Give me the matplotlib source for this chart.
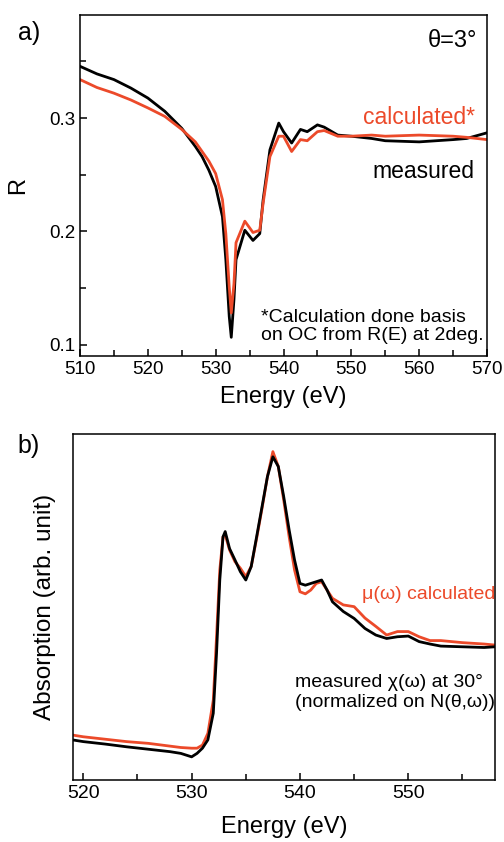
import matplotlib
matplotlib.use("Agg")
import matplotlib.pyplot as plt
from matplotlib.ticker import MultipleLocator

plt.rcParams['font.family'] = ['Liberation Sans', 'DejaVu Sans']

RED = "#ec4a2a"

# panel a: reflectivity at theta = 3 deg
e_a = [510, 512.5, 515, 517.5, 520, 522.5, 525, 527, 528, 529, 530, 531, 531.5,
       532, 532.3, 532.7, 533, 534.3, 535.5, 536.5, 537, 538, 539.3, 540, 541.2,
       542.5, 543.5, 545, 546, 548, 550, 553, 555, 560, 565, 567, 570]
r_meas = [0.3457, 0.339, 0.334, 0.3265, 0.3177, 0.306, 0.291, 0.275, 0.266, 0.254,
          0.2396, 0.213, 0.175, 0.125, 0.1065, 0.14, 0.175, 0.201, 0.192, 0.198,
          0.228, 0.272, 0.2956, 0.288, 0.278, 0.29, 0.288, 0.294, 0.292, 0.285,
          0.284, 0.282, 0.280, 0.279, 0.281, 0.282, 0.287]
r_calc = [0.334, 0.327, 0.322, 0.316, 0.309, 0.3015, 0.290, 0.279, 0.2705, 0.262,
          0.251, 0.228, 0.198, 0.151, 0.128, 0.154, 0.19, 0.209, 0.199, 0.201,
          0.225, 0.266, 0.284, 0.284, 0.2705, 0.281, 0.280, 0.288, 0.289, 0.284,
          0.284, 0.285, 0.284, 0.285, 0.284, 0.283, 0.281]

# panel b: absorption
e_b = [519, 520, 522, 524, 526, 528, 529, 530, 530.5, 531, 531.5, 532, 532.3,
       532.6, 532.9, 533.1, 533.5, 534, 534.5, 535, 535.5, 536, 536.5, 537,
       537.5, 538, 538.5, 539, 539.5, 540, 540.5, 541, 541.5, 542, 542.5, 543,
       544, 545, 546, 547, 548, 549, 550, 551, 552, 553, 555, 557, 558]
abs_meas = [0.116, 0.111, 0.104, 0.096, 0.089, 0.082, 0.077, 0.067, 0.077, 0.092,
            0.116, 0.193, 0.366, 0.578, 0.703, 0.718, 0.669, 0.636, 0.602, 0.578,
            0.617, 0.703, 0.790, 0.877, 0.934, 0.906, 0.819, 0.723, 0.636, 0.568,
            0.563, 0.568, 0.573, 0.578, 0.549, 0.515, 0.487, 0.467, 0.438, 0.419,
            0.409, 0.414, 0.416, 0.400, 0.393, 0.387, 0.385, 0.383, 0.385]
abs_calc = [0.130, 0.125, 0.118, 0.111, 0.106, 0.098, 0.094, 0.092, 0.092, 0.101,
            0.135, 0.231, 0.414, 0.607, 0.703, 0.708, 0.665, 0.631, 0.612, 0.588,
            0.617, 0.698, 0.785, 0.877, 0.949, 0.906, 0.809, 0.703, 0.607, 0.544,
            0.538, 0.549, 0.568, 0.573, 0.549, 0.525, 0.506, 0.501, 0.468, 0.444,
            0.419, 0.429, 0.429, 0.414, 0.403, 0.403, 0.397, 0.393, 0.390]

fig = plt.figure(figsize=(5.04, 8.42), dpi=100)

# ---- a)
ax1 = fig.add_axes([0.1587, 0.5772, 0.8076, 0.405])
ax1.plot(e_a, r_meas, color="black", lw=2)
ax1.plot(e_a, r_calc, color=RED, lw=2)
ax1.set_xlim(510, 570)
ax1.set_ylim(0.09, 0.391)
ax1.xaxis.set_major_locator(MultipleLocator(10))
ax1.xaxis.set_minor_locator(MultipleLocator(5))
ax1.yaxis.set_major_locator(MultipleLocator(0.1))
ax1.yaxis.set_minor_locator(MultipleLocator(0.05))
ax1.tick_params(which="both", direction="in", labelsize=13.5)
ax1.tick_params(which="major", length=5, width=1.1)
ax1.tick_params(which="minor", length=4, width=1.1)
ax1.set_xlabel("Energy (eV)", fontsize=17, labelpad=6)
ax1.set_ylabel("R", fontsize=17, labelpad=14)
ax1.text(0.975, 0.955, "θ=3°", transform=ax1.transAxes, ha="right", va="top", fontsize=17)
ax1.text(0.97, 0.70, "calculated*", transform=ax1.transAxes, ha="right", va="center",
         fontsize=16.5, color=RED)
ax1.text(0.97, 0.54, "measured", transform=ax1.transAxes, ha="right", va="center",
         fontsize=16.5)
ax1.text(0.445, 0.035, "*Calculation done basis\non OC from R(E) at 2deg.",
         transform=ax1.transAxes, ha="left", va="bottom", fontsize=14, linespacing=1.1)
fig.text(0.035, 0.952, "a)", fontsize=18)

# ---- b)
ax2 = fig.add_axes([0.1448, 0.0736, 0.8373, 0.411])
ax2.plot(e_b, abs_calc, color=RED, lw=2)
ax2.plot(e_b, abs_meas, color="black", lw=2)
ax2.set_xlim(519.05, 558)
ax2.set_ylim(0, 1)
ax2.xaxis.set_major_locator(MultipleLocator(10))
ax2.xaxis.set_minor_locator(MultipleLocator(5))
ax2.set_yticks([])
ax2.tick_params(which="both", direction="in", labelsize=14)
ax2.tick_params(which="major", length=5, width=1.1)
ax2.tick_params(which="minor", length=4, width=1.1)
ax2.set_xlabel("Energy (eV)", fontsize=17, labelpad=10)
ax2.set_ylabel("Absorption (arb. unit)", fontsize=17.5, labelpad=12)
ax2.text(1.0, 0.535, "μ(ω) calculated", transform=ax2.transAxes, ha="right",
         va="center", fontsize=14, color=RED)
ax2.text(0.525, 0.2, "measured χ(ω) at 30°\n(normalized on N(θ,ω))",
         transform=ax2.transAxes, ha="left", va="bottom", fontsize=14, linespacing=1.2)
fig.text(0.035, 0.462, "b)", fontsize=18)

for ax in (ax1, ax2):
    for s in ax.spines.values():
        s.set_linewidth(1.1)

fig.savefig("out.png", dpi=100)
